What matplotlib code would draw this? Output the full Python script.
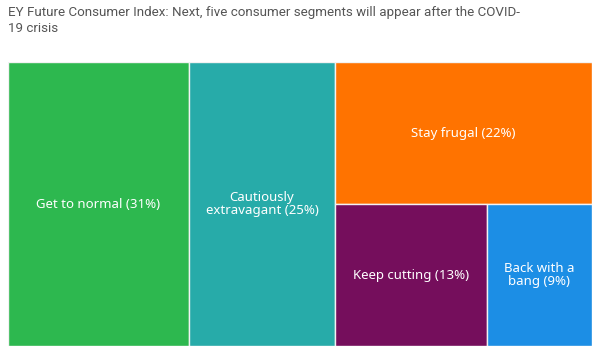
import matplotlib
matplotlib.use("Agg")
import matplotlib.pyplot as plt
from matplotlib.patches import Rectangle

plt.rcParams['font.family'] = ['Noto Sans', 'DejaVu Sans']

labels = ["Get to normal (31%)", "Cautiously\nextravagant (25%)", "Stay frugal (22%)",
          "Keep cutting (13%)", "Back with a\nbang (9%)"]
values = [31, 25, 22, 13, 9]
colors = ["#2db84f", "#27aba9", "#ff7300", "#750e5c", "#1c8ee5"]

title = "EY Future Consumer Index: Next, five consumer segments will appear after the COVID-\n19 crisis"

W, H = 584.0, 284.0


def worst(row, side):
    s = sum(row)
    return max(max(side * side * r / (s * s), s * s / (side * side * r)) for r in row)


def layout_row(row, x, y, w, h):
    s = sum(row)
    rects = []
    if w >= h:
        # column on the left
        cw = s / h
        yy = y
        for r in row:
            rh = r / cw
            rects.append((x, yy, cw, rh))
            yy += rh
        return rects, (x + cw, y, w - cw, h)
    rh = s / w
    xx = x
    for r in row:
        rw = r / rh
        rects.append((xx, y, rw, rh))
        xx += rw
    return rects, (x, y + rh, w, h - rh)


def squarify(vals, x, y, w, h):
    total = sum(vals)
    areas = [v * w * h / total for v in vals]
    out = []
    rect = (x, y, w, h)
    i = 0
    while i < len(areas):
        side = min(rect[2], rect[3])
        row = [areas[i]]
        i += 1
        while i < len(areas) and worst(row + [areas[i]], side) <= worst(row, side):
            row.append(areas[i])
            i += 1
        rs, rect = layout_row(row, *rect)
        out.extend(rs)
    return out


fig = plt.figure(figsize=(6, 3.52), dpi=100)
ax = fig.add_axes([8 / 600, 6 / 352, W / 600, H / 352])
ax.set_xlim(0, W)
ax.set_ylim(H, 0)
ax.axis("off")

for (rx, ry, rw, rh), lab, c in zip(squarify(values, 0, 0, W, H), labels, colors):
    ax.add_patch(Rectangle((rx, ry), rw, rh, facecolor=c, edgecolor="#f2f2f2", linewidth=1))
    ax.text(rx + rw / 2, ry + rh / 2, lab, ha="center", va="center", color="white",
            fontsize=9.5, linespacing=1.0)

fig.text(8 / 600, 1 - 6 / 352, title, ha="left", va="top", fontsize=9.6, color="#555555",
         linespacing=1.3, family=['Roboto', 'DejaVu Sans'])

fig.savefig("out.png", dpi=100)
